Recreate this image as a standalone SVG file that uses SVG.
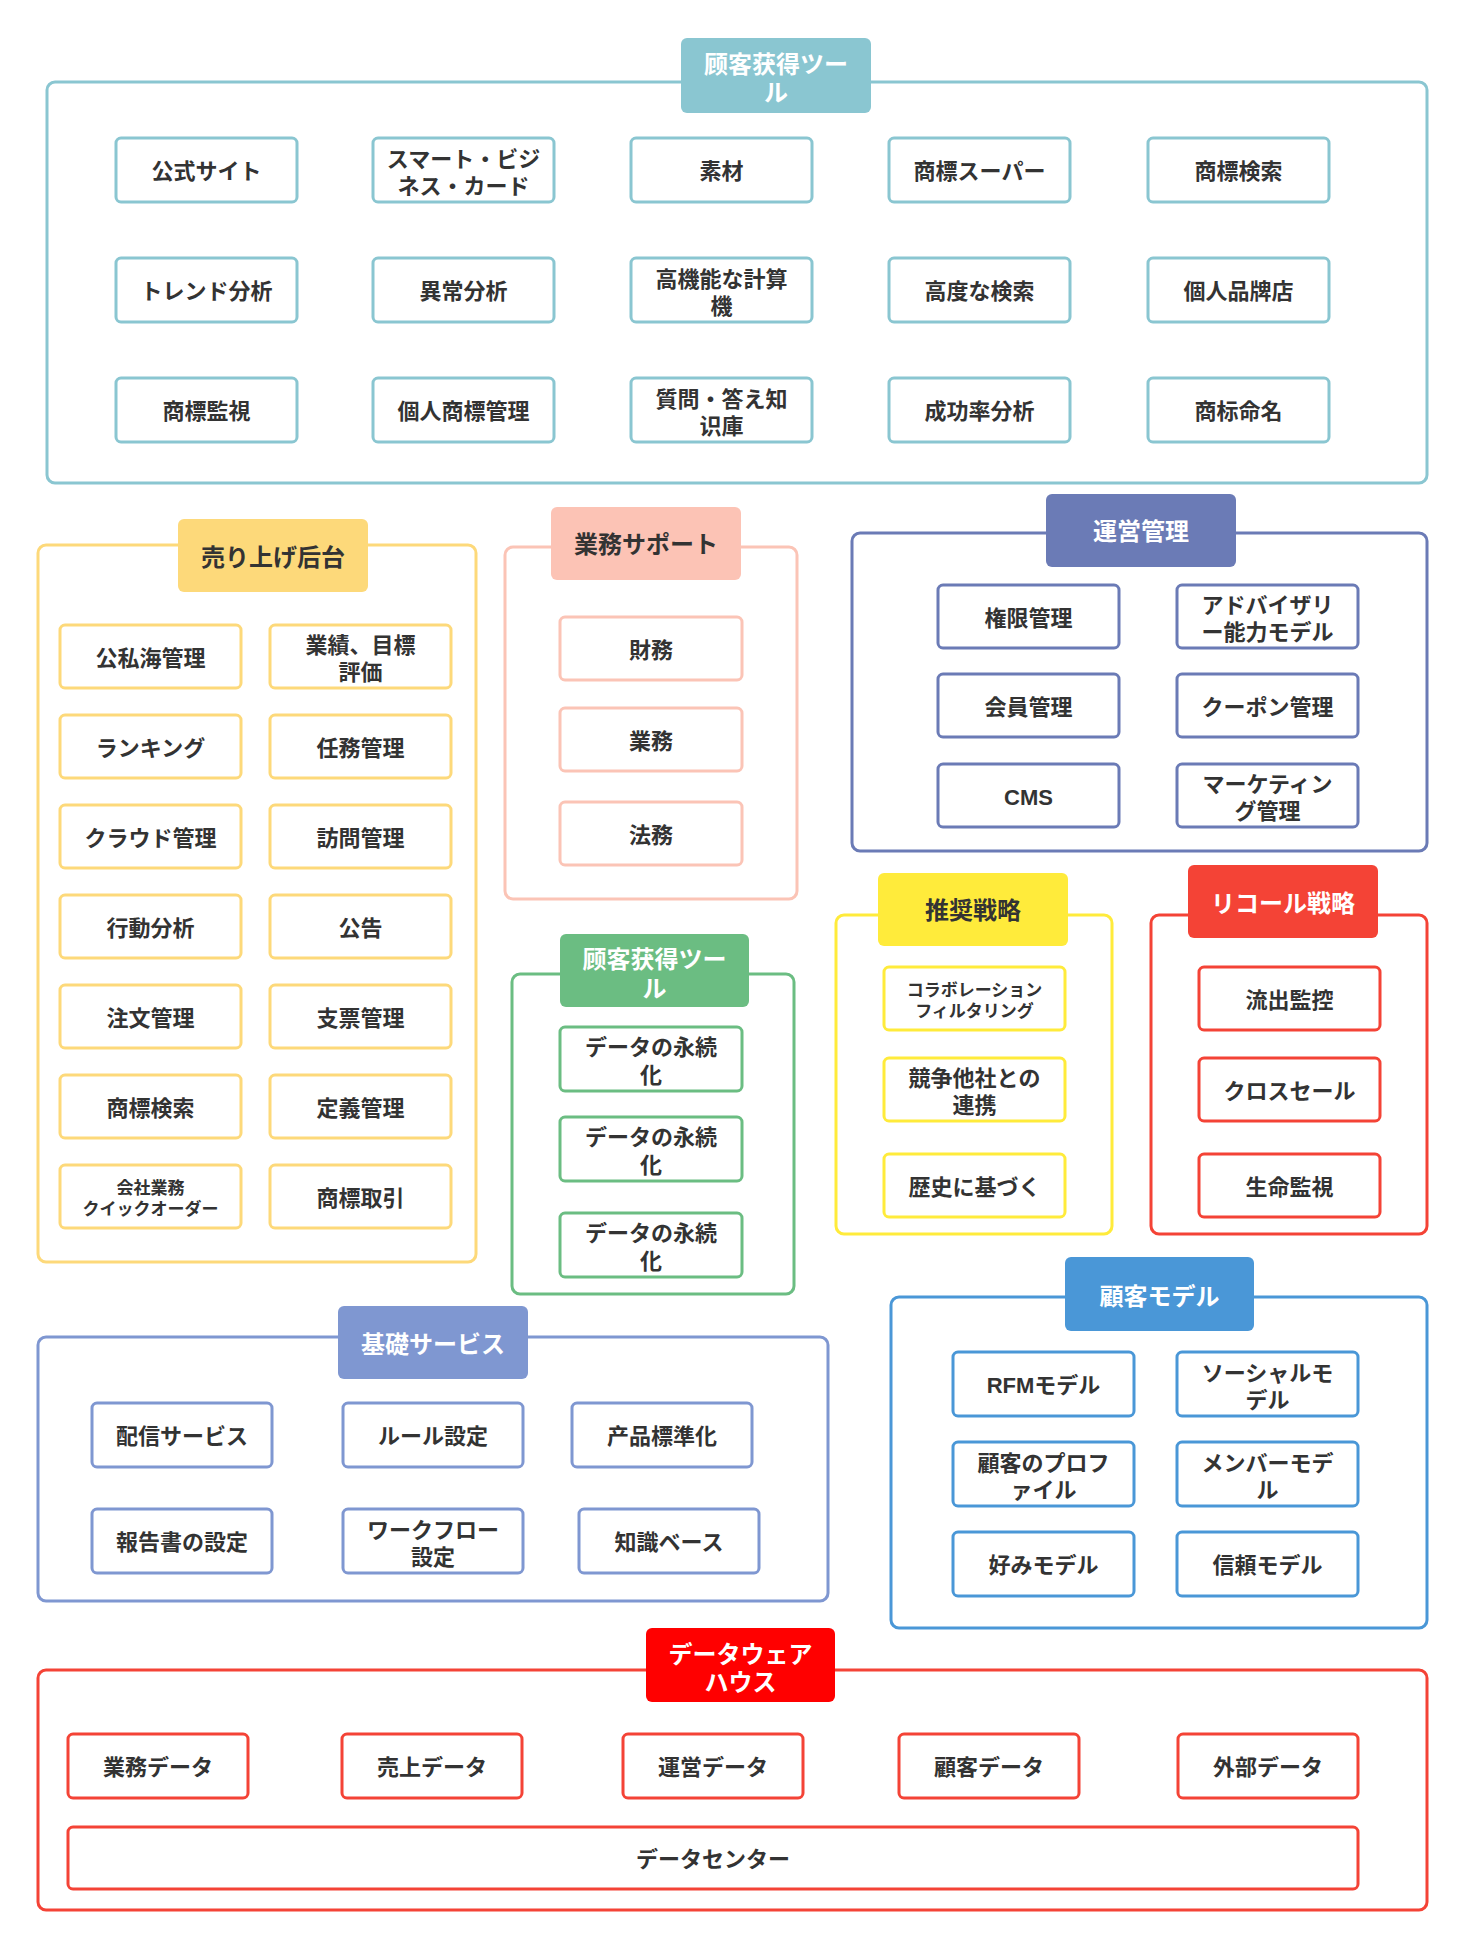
<svg xmlns="http://www.w3.org/2000/svg" width="1464" height="1947" viewBox="0 0 1464 1947">
<style>
text{font-family:"Liberation Sans","Noto Sans CJK JP","Noto Sans CJK SC",sans-serif;font-weight:700;text-anchor:middle;dominant-baseline:central;transform:translate(0px,1.5px)}
.t{font-size:22px;fill:#333}
.s{font-size:17px;fill:#333}
.h{font-size:24px;fill:#fff}
.hd{font-size:24px;fill:#333}
.box{fill:#fff;stroke-width:3}
.con{fill:none;stroke-width:3}
.teal{stroke:#8ac6d1}.yel{stroke:#fdd97a}.sal{stroke:#fbc4b6}.grn{stroke:#6bbd82}.sla{stroke:#6b7bb6}.ylw{stroke:#ffeb3b}.red{stroke:#f44336}.per{stroke:#7f97d1}.blu{stroke:#4a97d7}.rd2{stroke:#f44336}
</style>
<rect width="1464" height="1947" fill="#fff"/>
<g id="connectors"></g>

<!-- 顾客获得ツール (top) -->
<g id="grp-top">
<rect class="con teal" x="47" y="82" width="1380" height="401" rx="8"/>
<rect x="681" y="38" width="190" height="75" rx="6" fill="#8ac6d1"/>
<text class="h"><tspan x="776" y="62">顾客获得ツー</tspan><tspan x="776" y="90">ル</tspan></text>
</g>
<g id="n-top-1"><rect class="box teal" x="116" y="138" width="181" height="64" rx="5"/><text class="t" x="206.5" y="170">公式サイト</text></g>
<g id="n-top-2"><rect class="box teal" x="373" y="138" width="181" height="64" rx="5"/><text class="t"><tspan x="463.5" y="157">スマート・ビジ</tspan><tspan x="463.5" y="184">ネス・カード</tspan></text></g>
<g id="n-top-3"><rect class="box teal" x="631" y="138" width="181" height="64" rx="5"/><text class="t" x="721.5" y="170">素材</text></g>
<g id="n-top-4"><rect class="box teal" x="889" y="138" width="181" height="64" rx="5"/><text class="t" x="979.5" y="170">商標スーパー</text></g>
<g id="n-top-5"><rect class="box teal" x="1148" y="138" width="181" height="64" rx="5"/><text class="t" x="1238.5" y="170">商標検索</text></g>
<g id="n-top-6"><rect class="box teal" x="116" y="258" width="181" height="64" rx="5"/><text class="t" x="206.5" y="290">トレンド分析</text></g>
<g id="n-top-7"><rect class="box teal" x="373" y="258" width="181" height="64" rx="5"/><text class="t" x="463.5" y="290">異常分析</text></g>
<g id="n-top-8"><rect class="box teal" x="631" y="258" width="181" height="64" rx="5"/><text class="t"><tspan x="721.5" y="277">高機能な計算</tspan><tspan x="721.5" y="304">機</tspan></text></g>
<g id="n-top-9"><rect class="box teal" x="889" y="258" width="181" height="64" rx="5"/><text class="t" x="979.5" y="290">高度な検索</text></g>
<g id="n-top-10"><rect class="box teal" x="1148" y="258" width="181" height="64" rx="5"/><text class="t" x="1238.5" y="290">個人品牌店</text></g>
<g id="n-top-11"><rect class="box teal" x="116" y="378" width="181" height="64" rx="5"/><text class="t" x="206.5" y="410">商標監視</text></g>
<g id="n-top-12"><rect class="box teal" x="373" y="378" width="181" height="64" rx="5"/><text class="t" x="463.5" y="410">個人商標管理</text></g>
<g id="n-top-13"><rect class="box teal" x="631" y="378" width="181" height="64" rx="5"/><text class="t"><tspan x="721.5" y="397">質問・答え知</tspan><tspan x="721.5" y="424">识庫</tspan></text></g>
<g id="n-top-14"><rect class="box teal" x="889" y="378" width="181" height="64" rx="5"/><text class="t" x="979.5" y="410">成功率分析</text></g>
<g id="n-top-15"><rect class="box teal" x="1148" y="378" width="181" height="64" rx="5"/><text class="t" x="1238.5" y="410">商标命名</text></g>

<!-- 売り上げ后台 -->
<g id="grp-sales">
<rect class="con yel" x="38" y="545" width="438" height="717" rx="8"/>
<rect x="178" y="519" width="190" height="73" rx="6" fill="#fdd97a"/>
<text class="hd" x="273" y="556">売り上げ后台</text>
</g>
<g id="n-s-1"><rect class="box yel" x="60" y="625" width="181" height="63" rx="5"/><text class="t" x="150.5" y="656.5">公私海管理</text></g>
<g id="n-s-2"><rect class="box yel" x="270" y="625" width="181" height="63" rx="5"/><text class="t"><tspan x="360.5" y="643">業績、目標</tspan><tspan x="360.5" y="670">評価</tspan></text></g>
<g id="n-s-3"><rect class="box yel" x="60" y="715" width="181" height="63" rx="5"/><text class="t" x="150.5" y="746.5">ランキング</text></g>
<g id="n-s-4"><rect class="box yel" x="270" y="715" width="181" height="63" rx="5"/><text class="t" x="360.5" y="746.5">任務管理</text></g>
<g id="n-s-5"><rect class="box yel" x="60" y="805" width="181" height="63" rx="5"/><text class="t" x="150.5" y="836.5">クラウド管理</text></g>
<g id="n-s-6"><rect class="box yel" x="270" y="805" width="181" height="63" rx="5"/><text class="t" x="360.5" y="836.5">訪問管理</text></g>
<g id="n-s-7"><rect class="box yel" x="60" y="895" width="181" height="63" rx="5"/><text class="t" x="150.5" y="926.5">行動分析</text></g>
<g id="n-s-8"><rect class="box yel" x="270" y="895" width="181" height="63" rx="5"/><text class="t" x="360.5" y="926.5">公告</text></g>
<g id="n-s-9"><rect class="box yel" x="60" y="985" width="181" height="63" rx="5"/><text class="t" x="150.5" y="1016.5">注文管理</text></g>
<g id="n-s-10"><rect class="box yel" x="270" y="985" width="181" height="63" rx="5"/><text class="t" x="360.5" y="1016.5">支票管理</text></g>
<g id="n-s-11"><rect class="box yel" x="60" y="1075" width="181" height="63" rx="5"/><text class="t" x="150.5" y="1106.5">商標検索</text></g>
<g id="n-s-12"><rect class="box yel" x="270" y="1075" width="181" height="63" rx="5"/><text class="t" x="360.5" y="1106.5">定義管理</text></g>
<g id="n-s-13"><rect class="box yel" x="60" y="1165" width="181" height="63" rx="5"/><text class="s"><tspan x="150.5" y="1186">会社業務</tspan><tspan x="150.5" y="1207">クイックオーダー</tspan></text></g>
<g id="n-s-14"><rect class="box yel" x="270" y="1165" width="181" height="63" rx="5"/><text class="t" x="360.5" y="1196.5">商標取引</text></g>

<!-- 業務サポート -->
<g id="grp-support">
<rect class="con sal" x="505" y="547" width="292" height="352" rx="8"/>
<rect x="551" y="507" width="190" height="73" rx="6" fill="#fcc3b5"/>
<text class="hd" x="646" y="543">業務サポート</text>
</g>
<g id="n-sp-1"><rect class="box sal" x="560" y="617" width="182" height="63" rx="5"/><text class="t" x="651" y="648.5">財務</text></g>
<g id="n-sp-2"><rect class="box sal" x="560" y="708" width="182" height="63" rx="5"/><text class="t" x="651" y="739.5">業務</text></g>
<g id="n-sp-3"><rect class="box sal" x="560" y="802" width="182" height="63" rx="5"/><text class="t" x="651" y="833.5">法務</text></g>

<!-- 顾客获得ツール (green) -->
<g id="grp-green">
<rect class="con grn" x="512" y="974" width="282" height="320" rx="8"/>
<rect x="560" y="934" width="189" height="73" rx="6" fill="#6bbd82"/>
<text class="h"><tspan x="654.5" y="957">顾客获得ツー</tspan><tspan x="654.5" y="986">ル</tspan></text>
</g>
<g id="n-g-1"><rect class="box grn" x="560" y="1027" width="182" height="64" rx="5"/><text class="t"><tspan x="651" y="1045">データの永続</tspan><tspan x="651" y="1073">化</tspan></text></g>
<g id="n-g-2"><rect class="box grn" x="560" y="1117" width="182" height="64" rx="5"/><text class="t"><tspan x="651" y="1135">データの永続</tspan><tspan x="651" y="1163">化</tspan></text></g>
<g id="n-g-3"><rect class="box grn" x="560" y="1213" width="182" height="64" rx="5"/><text class="t"><tspan x="651" y="1231">データの永続</tspan><tspan x="651" y="1259">化</tspan></text></g>

<!-- 運営管理 -->
<g id="grp-ops">
<rect class="con sla" x="852" y="533" width="575" height="318" rx="8"/>
<rect x="1046" y="494" width="190" height="73" rx="6" fill="#6b7bb6"/>
<text class="h" x="1141" y="530">運営管理</text>
</g>
<g id="n-o-1"><rect class="box sla" x="938" y="585" width="181" height="63" rx="5"/><text class="t" x="1028.5" y="616.5">権限管理</text></g>
<g id="n-o-2"><rect class="box sla" x="1177" y="585" width="181" height="63" rx="5"/><text class="t"><tspan x="1267.5" y="603">アドバイザリ</tspan><tspan x="1267.5" y="630">ー能力モデル</tspan></text></g>
<g id="n-o-3"><rect class="box sla" x="938" y="674" width="181" height="63" rx="5"/><text class="t" x="1028.5" y="705.5">会員管理</text></g>
<g id="n-o-4"><rect class="box sla" x="1177" y="674" width="181" height="63" rx="5"/><text class="t" x="1267.5" y="705.5">クーポン管理</text></g>
<g id="n-o-5"><rect class="box sla" x="938" y="764" width="181" height="63" rx="5"/><text class="t" x="1028.5" y="795.5">CMS</text></g>
<g id="n-o-6"><rect class="box sla" x="1177" y="764" width="181" height="63" rx="5"/><text class="t"><tspan x="1267.5" y="782">マーケティン</tspan><tspan x="1267.5" y="809">グ管理</tspan></text></g>

<!-- 推奨戦略 -->
<g id="grp-rec">
<rect class="con ylw" x="836" y="915" width="276" height="319" rx="8"/>
<rect x="878" y="873" width="190" height="73" rx="6" fill="#ffeb3b"/>
<text class="hd" x="973" y="909">推奨戦略</text>
</g>
<g id="n-r-1"><rect class="box ylw" x="884" y="967" width="181" height="63" rx="5"/><text class="s"><tspan x="974.5" y="988">コラボレーション</tspan><tspan x="974.5" y="1009">フィルタリング</tspan></text></g>
<g id="n-r-2"><rect class="box ylw" x="884" y="1058" width="181" height="63" rx="5"/><text class="t"><tspan x="974.5" y="1076">競争他社との</tspan><tspan x="974.5" y="1103">連携</tspan></text></g>
<g id="n-r-3"><rect class="box ylw" x="884" y="1154" width="181" height="63" rx="5"/><text class="t" x="974.5" y="1185.5">歴史に基づく</text></g>

<!-- リコール戦略 -->
<g id="grp-recall">
<rect class="con red" x="1151" y="915" width="276" height="319" rx="8"/>
<rect x="1188" y="865" width="190" height="73" rx="6" fill="#f44336"/>
<text class="h" x="1283" y="902">リコール戦略</text>
</g>
<g id="n-rc-1"><rect class="box red" x="1199" y="967" width="181" height="63" rx="5"/><text class="t" x="1289.5" y="998.5">流出監控</text></g>
<g id="n-rc-2"><rect class="box red" x="1199" y="1058" width="181" height="63" rx="5"/><text class="t" x="1289.5" y="1089.5">クロスセール</text></g>
<g id="n-rc-3"><rect class="box red" x="1199" y="1154" width="181" height="63" rx="5"/><text class="t" x="1289.5" y="1185.5">生命監視</text></g>

<!-- 基礎サービス -->
<g id="grp-base">
<rect class="con per" x="38" y="1337" width="790" height="264" rx="8"/>
<rect x="338" y="1306" width="190" height="73" rx="6" fill="#7f97d1"/>
<text class="h" x="433" y="1343">基礎サービス</text>
</g>
<g id="n-b-1"><rect class="box per" x="92" y="1403" width="180" height="64" rx="5"/><text class="t" x="182" y="1435">配信サービス</text></g>
<g id="n-b-2"><rect class="box per" x="343" y="1403" width="180" height="64" rx="5"/><text class="t" x="433" y="1435">ルール設定</text></g>
<g id="n-b-3"><rect class="box per" x="572" y="1403" width="180" height="64" rx="5"/><text class="t" x="662" y="1435">产品標準化</text></g>
<g id="n-b-4"><rect class="box per" x="92" y="1509" width="180" height="64" rx="5"/><text class="t" x="182" y="1541">報告書の設定</text></g>
<g id="n-b-5"><rect class="box per" x="343" y="1509" width="180" height="64" rx="5"/><text class="t"><tspan x="433" y="1528">ワークフロー</tspan><tspan x="433" y="1555">設定</tspan></text></g>
<g id="n-b-6"><rect class="box per" x="579" y="1509" width="180" height="64" rx="5"/><text class="t" x="669" y="1541">知識ベース</text></g>

<!-- 顧客モデル -->
<g id="grp-model">
<rect class="con blu" x="891" y="1297" width="536" height="331" rx="8"/>
<rect x="1065" y="1257" width="189" height="74" rx="6" fill="#4a97d7"/>
<text class="h" x="1159.5" y="1295">顧客モデル</text>
</g>
<g id="n-m-1"><rect class="box blu" x="953" y="1352" width="181" height="64" rx="5"/><text class="t" x="1043.5" y="1384">RFMモデル</text></g>
<g id="n-m-2"><rect class="box blu" x="1177" y="1352" width="181" height="64" rx="5"/><text class="t"><tspan x="1267.5" y="1371">ソーシャルモ</tspan><tspan x="1267.5" y="1398">デル</tspan></text></g>
<g id="n-m-3"><rect class="box blu" x="953" y="1442" width="181" height="64" rx="5"/><text class="t"><tspan x="1043.5" y="1461">顧客のプロフ</tspan><tspan x="1043.5" y="1488">ァイル</tspan></text></g>
<g id="n-m-4"><rect class="box blu" x="1177" y="1442" width="181" height="64" rx="5"/><text class="t"><tspan x="1267.5" y="1461">メンバーモデ</tspan><tspan x="1267.5" y="1488">ル</tspan></text></g>
<g id="n-m-5"><rect class="box blu" x="953" y="1532" width="181" height="64" rx="5"/><text class="t" x="1043.5" y="1564">好みモデル</text></g>
<g id="n-m-6"><rect class="box blu" x="1177" y="1532" width="181" height="64" rx="5"/><text class="t" x="1267.5" y="1564">信頼モデル</text></g>

<!-- データウェアハウス -->
<g id="grp-dwh">
<rect class="con rd2" x="38" y="1670" width="1389" height="240" rx="8"/>
<rect x="646" y="1628" width="189" height="74" rx="6" fill="#ff0000"/>
<text class="h"><tspan x="740.5" y="1652">データウェア</tspan><tspan x="740.5" y="1680">ハウス</tspan></text>
</g>
<g id="n-d-1"><rect class="box rd2" x="68" y="1734" width="180" height="64" rx="5"/><text class="t" x="158" y="1766">業務データ</text></g>
<g id="n-d-2"><rect class="box rd2" x="342" y="1734" width="180" height="64" rx="5"/><text class="t" x="432" y="1766">売上データ</text></g>
<g id="n-d-3"><rect class="box rd2" x="623" y="1734" width="180" height="64" rx="5"/><text class="t" x="713" y="1766">運営データ</text></g>
<g id="n-d-4"><rect class="box rd2" x="899" y="1734" width="180" height="64" rx="5"/><text class="t" x="989" y="1766">顧客データ</text></g>
<g id="n-d-5"><rect class="box rd2" x="1178" y="1734" width="180" height="64" rx="5"/><text class="t" x="1268" y="1766">外部データ</text></g>
<g id="n-d-6"><rect class="box rd2" x="68" y="1827" width="1290" height="62" rx="5"/><text class="t" x="713" y="1858">データセンター</text></g>
</svg>
